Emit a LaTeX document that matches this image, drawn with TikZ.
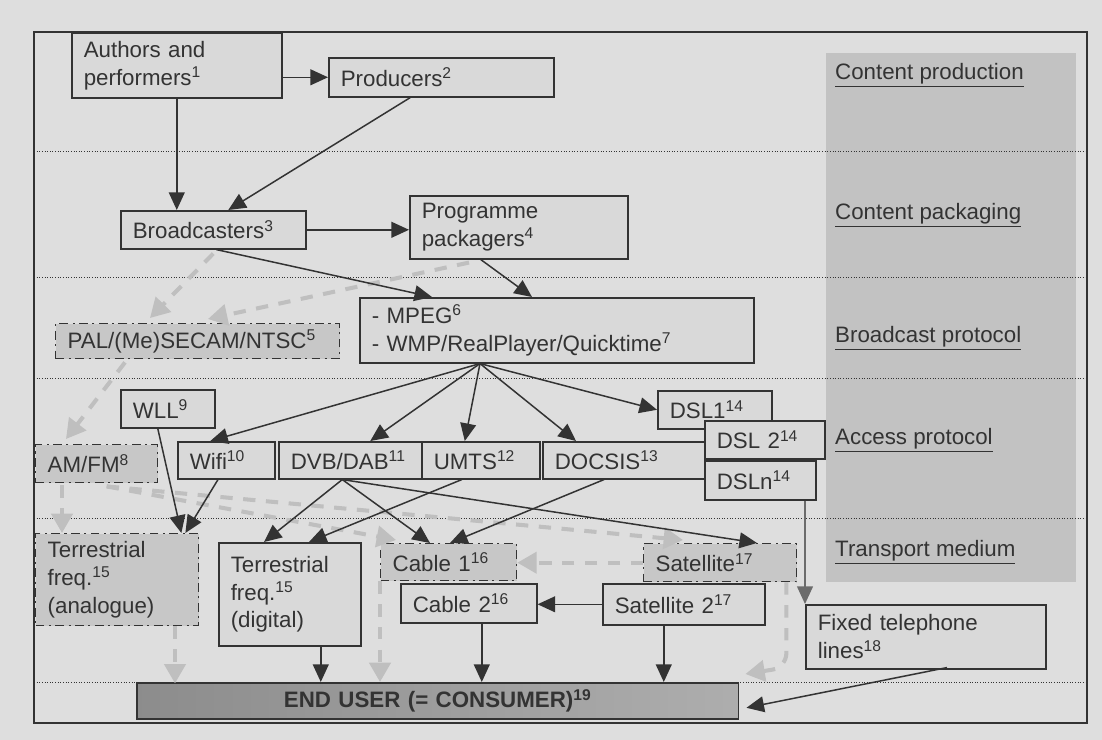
\documentclass[tikz,border=0pt]{standalone}
\usepackage{fontspec}
\setmainfont{Liberation Sans}
\usetikzlibrary{arrows.meta,calc}
\definecolor{bgcol}{gray}{0.87}
\definecolor{boxcol}{gray}{0.85}
\definecolor{dboxcol}{gray}{0.78}
\definecolor{colcol}{gray}{0.76}
\definecolor{linecol}{gray}{0.2}
\definecolor{arrgray}{gray}{0.75}
\definecolor{midgray}{gray}{0.42}
\definecolor{endleft}{gray}{0.55}
\definecolor{endright}{gray}{0.68}
\tikzset{
  box/.style = {draw = linecol, line width = 0.9pt, fill = boxcol, anchor = north west,
    inner xsep = 0.24cm, inner ysep = 0pt, align = left, text = linecol,
    font = \fontsize{12.7}{15.9}\selectfont},
  dbox/.style = {box, fill = dboxcol, line width = 0.8pt,
    dash pattern = on 5pt off 2.5pt on 1.2pt off 2.5pt},
  levellabel/.style = {anchor = west, text = linecol, font = \fontsize{12.7}{15}\selectfont},
  arr/.style = {draw = linecol, line width = 0.85pt, -{Triangle[length = 10pt, width = 9pt]}},
  garr/.style = {draw = arrgray, line width = 2.3pt, dash pattern = on 7pt off 6pt,
    -{Triangle[length = 11pt, width = 12pt]}},
  dotline/.style = {draw = linecol, line width = 0.5pt, dash pattern = on 0.5pt off 1pt}
}
\begin{document}
    \begin{tikzpicture}[x = 0.02cm, y = -0.02cm]
        \useasboundingbox (0,0) rectangle (1102,740);
        \fill[bgcol] (0,0) rectangle (1102,740);
        \fill[colcol] (826,53) rectangle (1076,582);
        \foreach \yy in {151,277,378,518,682}
            \draw[dotline] (34,\yy) -- (1087,\yy);
        \draw[linecol, line width = 0.8pt] (34,32) rectangle (1087,723);

        \node[levellabel] (lprod) at (829,75)  {\underline{Content production}};
        \node[levellabel] (lpack) at (829,215) {\underline{Content packaging}};
        \node[levellabel] (lbroad) at (829,338) {\underline{Broadcast protocol}};
        \node[levellabel] (laccess) at (829,440) {\underline{Access protocol}};
        \node[levellabel] (ltrans) at (829,552) {\underline{Transport medium}};

        \node[box, text width = 3.72cm, minimum height = 1.3cm] (Authors) at (71,32)
            {Authors and\\performers\textsuperscript{1}};
        \node[box, text width = 4.02cm, minimum height = 0.78cm] (Producers) at (328,57)
            {Producers\textsuperscript{2}};
        \node[box, text width = 3.22cm, minimum height = 0.76cm] (Broadcasters) at (120,210)
            {Broadcasters\textsuperscript{3}};
        \node[box, text width = 3.88cm, minimum height = 1.26cm] (Packagers) at (409,195)
            {Programme\\packagers\textsuperscript{4}};
        \node[box, text width = 7.40cm, minimum height = 1.3cm] (MPEG) at (359,297)
            {- MPEG\textsuperscript{6}\\- WMP/RealPlayer/Quicktime\textsuperscript{7}};
        \node[dbox, text width = 5.20cm, minimum height = 0.7cm] (PAL) at (55,323)
            {PAL/(Me)SECAM/NTSC\textsuperscript{5}};

        \node[box, text width = 1.40cm, minimum height = 0.76cm] (WLL) at (120,389)
            {WLL\textsuperscript{9}};
        \node[dbox, text width = 1.96cm, minimum height = 0.76cm] (AMFM) at (35,444)
            {AM/FM\textsuperscript{8}};
        \node[box, text width = 1.46cm, minimum height = 0.74cm] (Wifi) at (177,441)
            {Wifi\textsuperscript{10}};
        \node[box, text width = 2.38cm, minimum height = 0.74cm] (DVB) at (278,441)
            {DVB/DAB\textsuperscript{11}};
        \node[box, text width = 1.88cm, minimum height = 0.74cm] (UMTS) at (421,441)
            {UMTS\textsuperscript{12}};
        \node[box, text width = 1.80cm, minimum height = 0.76cm] (DSL1) at (657,390)
            {DSL1\textsuperscript{14}};
        \node[box, text width = 2.76cm, minimum height = 0.74cm] (DOCSIS) at (542,441)
            {DOCSIS\textsuperscript{13}};
        \node[box, text width = 1.92cm, minimum height = 0.76cm] (DSL2) at (704,420)
            {DSL 2\textsuperscript{14}};
        \node[box, text width = 1.74cm, minimum height = 0.78cm] (DSLn) at (704,460)
            {DSLn\textsuperscript{14}};

        \node[dbox, text width = 2.78cm, minimum height = 1.84cm] (TerrA) at (35,533)
            {Terrestrial\\freq.\textsuperscript{15}\\(analogue)};
        \node[box, text width = 2.36cm, minimum height = 2.06cm] (TerrD) at (218,542)
            {Terrestrial\\freq.\textsuperscript{15}\\(digital)};
        \node[dbox, text width = 2.24cm, minimum height = 0.74cm] (Cable1) at (380,543)
            {Cable 1\textsuperscript{16}};
        \node[box, text width = 2.24cm, minimum height = 0.78cm] (Cable2) at (400,583)
            {Cable 2\textsuperscript{16}};
        \node[dbox, text width = 2.58cm, minimum height = 0.76cm] (Sat) at (643,543)
            {Satellite\textsuperscript{17}};
        \node[box, text width = 2.76cm, minimum height = 0.82cm] (Sat2) at (602,583)
            {Satellite 2\textsuperscript{17}};
        \node[box, text width = 4.32cm, minimum height = 1.28cm] (Fixed) at (805,604)
            {Fixed telephone\\lines\textsuperscript{18}};
        \node[box, align = center, text width = 11.56cm, minimum height = 0.72cm,
            left color = endleft, right color = endright] (End) at (136,682)
            {\textbf{END USER (= CONSUMER)\textsuperscript{19}}};

        \draw[garr] ($(Broadcasters.south)+(0,4)$) -- ($(PAL.north west)+(95,-5)$);
        \draw[garr] ($(Packagers.south west)+(60,3)$) -- ($(PAL.north west)+(153,-4)$);
        \draw[garr] ($(PAL.south west)+(70,3)$) -- ($(AMFM.north west)+(31,-5)$);
        \draw[garr] ($(AMFM.south west)+(27,2)$) -- ($(TerrA.north west)+(27,0)$);
        \draw[garr] ($(AMFM.south)+(10,3)$) -- ($(Cable1.north west)+(16,-3)$);
        \draw[garr] ($(AMFM.south)+(10,3)$) -- ($(Sat.north west)+(40,-3)$);
        \draw[garr] (Sat.west) -- (Sat.west -| Cable1.east);
        \draw[garr] ($(TerrA.south west)+(140,0)$) -- ($(TerrA.south west)+(140,57)$);
        \draw[garr] (Cable1.south west) -- (Cable1.south west |- End.north);
        \draw[garr, rounded corners = 8pt] ($(Sat.south east)+(-11,0)$)
            -- ($(Sat.south east)+(-11,85)$) -- ($(End.north east)+(6,-8)$);

        \draw[arr] (Authors.east |- Producers.west) -- (Producers.west);
        \draw[arr] (Authors.south) -- (Authors.south |- Broadcasters.north);
        \draw[arr] ($(Producers.south)+(-31,0)$) -- ($(Broadcasters.north)+(15,0)$);
        \draw[arr] (Broadcasters.east) -- (Broadcasters.east -| Packagers.west);
        \draw[arr] ($(Broadcasters.south)+(3,0)$) -- ($(MPEG.north west)+(73,0)$);
        \draw[arr] ($(Packagers.south)+(-38,0)$) -- ($(MPEG.north west)+(173,0)$);
        \coordinate (mpegout) at ($(MPEG.south west)+(121,0)$);
        \draw[arr] (mpegout) -- ($(Wifi.north)+(-16,0)$);
        \draw[arr] (mpegout) -- ($(DVB.north)+(20,0)$);
        \draw[arr] (mpegout) -- ($(UMTS.north)+(-16,0)$);
        \draw[arr] (mpegout) -- ($(DOCSIS.north west)+(34,0)$);
        \draw[arr] (mpegout) -- (DSL1.west);
        \draw[arr] ($(WLL.south)+(-10,0)$) -- ($(TerrA.north east)+(-18,0)$);
        \draw[arr] ($(Wifi.south west)+(41,0)$) -- ($(TerrA.north east)+(-14,0)$);
        \coordinate (dvbout) at ($(DVB.south)+(-8,0)$);
        \draw[arr] (dvbout) -- ($(TerrD.north west)+(46,0)$);
        \draw[arr] (dvbout) -- ($(Cable1.north west)+(50,0)$);
        \draw[arr] (dvbout) -- ($(Sat.north west)+(114,0)$);
        \draw[arr] ($(UMTS.south)+(-19,0)$) -- ($(TerrD.north west)+(91,0)$);
        \draw[arr] ($(DOCSIS.south west)+(62,0)$) -- ($(Cable1.north west)+(70,0)$);
        \draw[arr, draw = midgray] (Fixed.north west |- DSLn.south) -- (Fixed.north west);
        \draw[arr] (Sat2.west) -- (Sat2.west -| Cable2.east);
        \coordinate (tdout) at ($(TerrD.south)+(31,0)$);
        \draw[arr] (tdout) -- (tdout |- End.north);
        \coordinate (c2out) at ($(Cable2.south)+(13,0)$);
        \draw[arr] (c2out) -- (c2out |- End.north);
        \coordinate (s2out) at ($(Sat2.south)+(-20,0)$);
        \draw[arr] (s2out) -- (s2out |- End.north);
        \draw[arr] ($(Fixed.south west)+(142,-2)$) -- ($(End.east)+(7,7)$);
    \end{tikzpicture}
\end{document}
